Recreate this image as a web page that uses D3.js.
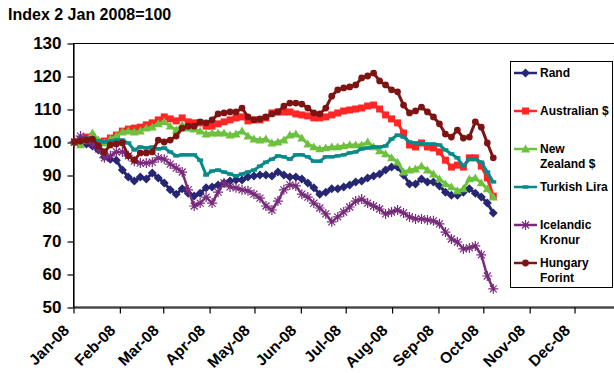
<!DOCTYPE html>
<html>
<head>
<meta charset="utf-8">
<script src="https://cdn.jsdelivr.net/npm/d3@7"></script>
<style>
  html, body { margin: 0; padding: 0; background: #ffffff; }
  svg { display: block; font-family: "Liberation Sans", Arial, sans-serif; font-weight: bold; }
</style>
</head>
<body>
<svg id="chart" width="614" height="373"></svg>
<script>
// Observation dates (2008)
const dates = [
  "2008-01-02","2008-01-06","2008-01-10","2008-01-14","2008-01-18","2008-01-22","2008-01-26","2008-01-30",
  "2008-02-03","2008-02-07","2008-02-11","2008-02-15","2008-02-19","2008-02-23","2008-02-27",
  "2008-03-02","2008-03-06","2008-03-10","2008-03-14","2008-03-18","2008-03-22","2008-03-26","2008-03-30",
  "2008-04-03","2008-04-07","2008-04-11","2008-04-15","2008-04-19","2008-04-23","2008-04-27",
  "2008-05-01","2008-05-05","2008-05-09","2008-05-13","2008-05-17","2008-05-21","2008-05-25","2008-05-29",
  "2008-06-02","2008-06-06","2008-06-10","2008-06-14","2008-06-18","2008-06-22","2008-06-26","2008-06-30",
  "2008-07-04","2008-07-08","2008-07-12","2008-07-16","2008-07-20","2008-07-24","2008-07-28",
  "2008-08-01","2008-08-05","2008-08-09","2008-08-13","2008-08-17","2008-08-21","2008-08-25","2008-08-29",
  "2008-09-02","2008-09-06","2008-09-10","2008-09-14","2008-09-18","2008-09-22","2008-09-26","2008-09-30",
  "2008-10-04","2008-10-08"
];

// Currency indices, 2 Jan 2008 = 100
const rand = [100.0,99.7,99.4,98.8,97.6,95.5,94.8,94.5,91.5,89.4,
  88.2,89.4,88.8,90.6,89.1,87.6,85.5,84.2,85.8,84.5,
  83.6,84.5,86.1,86.4,87.0,87.6,88.2,88.5,88.5,89.4,
  89.7,90.0,90.0,89.7,90.9,90.0,89.4,89.4,88.8,87.6,
  86.1,84.2,84.8,85.8,85.8,86.4,87.0,87.9,88.2,89.1,
  89.7,90.3,91.5,92.4,92.4,90.0,87.3,87.3,88.8,87.9,
  87.9,86.7,84.8,83.9,83.9,84.8,85.8,84.5,83.3,81.5,78.5];

const australianDollar = [100.0,100.6,101.5,101.5,100.0,100.3,101.2,102.1,103.3,103.9,
  104.2,104.5,105.2,105.8,106.7,107.6,107.0,106.4,107.3,106.1,
  105.8,105.8,104.8,104.8,105.5,106.1,106.7,107.3,107.6,106.4,
  106.7,106.7,107.3,108.8,109.1,109.1,109.1,108.5,108.2,107.9,
  107.3,107.3,107.6,108.2,108.8,109.4,109.7,110.0,110.3,110.9,
  111.2,110.0,108.2,107.0,105.8,102.7,99.1,98.5,99.7,98.5,
  98.2,97.0,94.5,92.4,93.0,92.4,95.2,95.2,92.7,89.1,83.6];

const newZealandDollar = [100.0,99.1,100.6,102.7,100.6,99.7,100.9,101.8,103.0,103.3,
  103.0,103.3,104.2,104.5,105.5,106.1,104.8,103.6,105.2,104.2,
  103.9,103.3,102.4,102.7,102.7,102.7,102.1,102.4,103.3,101.8,
  100.9,100.6,100.9,99.7,100.0,100.6,102.1,102.4,101.2,99.4,
  98.5,97.9,98.2,98.5,98.5,98.8,99.1,99.1,99.1,100.0,
  98.5,97.3,96.4,95.2,93.9,90.9,91.5,91.8,92.7,91.5,
  90.3,88.8,87.3,86.4,85.2,85.8,88.8,89.1,87.6,85.8,83.3];

const turkishLira = [100.0,100.6,101.2,100.9,100.3,100.0,100.3,100.6,100.6,99.7,
  97.6,98.5,98.2,98.5,97.9,98.2,97.0,95.8,96.1,96.1,
  96.1,94.5,90.0,91.2,91.5,90.9,90.3,89.7,90.3,90.9,
  91.5,92.7,93.9,94.8,95.8,95.5,94.8,96.1,96.1,95.5,
  94.2,94.2,95.5,95.5,95.8,96.1,96.7,97.0,97.9,98.2,
  98.5,98.5,98.8,100.9,102.1,101.5,100.0,99.7,99.7,99.4,
  99.4,99.1,97.6,96.4,95.2,92.7,94.8,94.8,93.9,90.9,87.9];

const icelandicKronur = [100.0,101.8,100.6,99.4,97.9,95.2,95.8,97.0,97.0,95.8,
  94.2,93.6,93.6,93.9,95.2,94.8,93.3,92.1,90.9,85.5,
  80.6,81.5,83.3,81.5,84.8,87.6,86.4,86.1,85.5,85.2,
  84.2,83.0,80.6,79.4,82.1,85.5,87.0,86.7,84.2,83.3,
  81.5,80.0,78.2,75.8,77.3,78.8,80.3,82.1,82.7,81.5,
  80.6,79.7,78.2,78.8,79.4,78.5,77.3,76.7,76.7,76.4,
  76.1,75.2,72.7,70.6,69.7,67.6,67.9,68.5,65.8,59.4,55.5];

const hungaryForint = [100.0,100.3,100.6,100.9,98.8,97.0,99.1,99.4,99.7,95.8,
  94.5,96.7,96.7,97.0,100.6,100.0,100.6,101.8,104.2,104.8,
  104.8,106.1,105.8,106.7,108.5,108.8,109.1,109.1,110.3,107.6,
  106.7,107.0,107.6,108.5,109.1,110.9,111.8,111.8,111.5,110.3,
  108.8,108.5,110.3,113.9,115.8,116.4,116.7,117.3,119.4,120.0,
  120.9,118.5,117.3,115.8,115.2,111.2,108.8,109.4,110.6,109.1,
  107.6,105.5,102.4,101.5,103.6,101.2,101.5,106.1,104.5,99.7,95.2];

// Axis ticks
const monthTicks = ["2008-01-01","2008-02-01","2008-03-01","2008-04-01","2008-05-01","2008-06-01",
  "2008-07-01","2008-08-01","2008-09-01","2008-10-01","2008-11-01","2008-12-01"];
const monthLabels = ["Jan-08","Feb-08","Mar-08","Apr-08","May-08","Jun-08",
  "Jul-08","Aug-08","Sep-08","Oct-08","Nov-08","Dec-08"];
const yTicks = [50, 60, 70, 80, 90, 100, 110, 120, 130];

const legendLabels = [["Rand"], ["Australian $"], ["New", "Zealand $"], ["Turkish Lira"], ["Icelandic", "Kronur"], ["Hungary", "Forint"]];
const seriesValues = [rand, australianDollar, newZealandDollar, turkishLira, icelandicKronur, hungaryForint];
const seriesColors = ["#262673", "#ff2626", "#6cc13f", "#078a8a", "#782a7c", "#7d1414"];
const seriesMarkers = ["diamond", "square", "triangle", "dash", "asterisk", "circle"];

const parseDate = d3.utcParse("%Y-%m-%d");
const svg = d3.select("#chart");

const x = d3.scaleUtc()
  .domain([parseDate("2008-01-01"), parseDate("2009-01-01")])
  .range([73, 620.4]);
const y = d3.scaleLinear().domain([50, 130]).range([307, 43]);

// Title
svg.append("text")
  .attr("x", 8).attr("y", 20)
  .attr("font-size", 16)
  .attr("fill", "#000")
  .text("Index 2 Jan 2008=100");

// Plot frame
svg.append("rect")
  .attr("x", 73.5).attr("y", 43.5)
  .attr("width", 560).attr("height", 263.5)
  .attr("fill", "none").attr("stroke", "#000").attr("stroke-width", 1);

// Y axis
const yAxis = svg.append("g")
  .attr("transform", "translate(73.5,0.5)")
  .call(d3.axisLeft(y).tickValues(yTicks).tickSize(6).tickSizeOuter(0).tickPadding(6));
yAxis.selectAll("text")
  .attr("font-size", 17).attr("font-family", "Liberation Sans, Arial, sans-serif")
  .attr("font-weight", "bold").attr("fill", "#000");
yAxis.selectAll("line, path").attr("stroke", "#000").attr("stroke-width", 1.2);

// X axis
const xAxis = svg.append("g")
  .attr("transform", "translate(0.5,307.5)")
  .call(d3.axisBottom(x)
    .tickValues(monthTicks.map(parseDate))
    .tickFormat((d, i) => monthLabels[i])
    .tickSize(6).tickSizeOuter(0));
xAxis.selectAll("line, path").attr("stroke", "#000").attr("stroke-width", 1.2);
xAxis.selectAll("text")
  .attr("font-size", 15.5).attr("font-family", "Liberation Sans, Arial, sans-serif")
  .attr("font-weight", "bold").attr("fill", "#000")
  .attr("x", 0).attr("y", 0).attr("dy", 0)
  .attr("text-anchor", "end")
  .attr("transform", "translate(-4,24) rotate(-45)");

// Marker shapes
function markerPath(kind) {
  switch (kind) {
    case "diamond": return "M0,-4.5L4.5,0L0,4.5L-4.5,0Z";
    case "square": return "M-3.5,-3.5H3.5V3.5H-3.5Z";
    case "triangle": return "M0,-4.5L4.5,3.4L-4.5,3.4Z";
    case "dash": return "M-3,-1.7H3V1.7H-3Z";
    case "asterisk": return "M-3.5,-3.5L3.5,3.5M-3.5,3.5L3.5,-3.5M0,-5V5M-5,0H5";
    case "circle": return d3.symbol(d3.symbolCircle, 36)();
  }
}
function styleMarker(sel, kind, color) {
  if (kind === "asterisk") {
    sel.attr("fill", "none").attr("stroke", color).attr("stroke-width", 1.2);
  } else {
    sel.attr("fill", color).attr("stroke", "none");
  }
}

const line = d3.line()
  .x(d => x(d.date))
  .y(d => y(d.value));

const plot = svg.append("g");
seriesValues.forEach((vals, s) => {
  const pts = vals.map((v, i) => ({ date: parseDate(dates[i]), value: v }));
  const g = plot.append("g");
  g.append("path")
    .datum(pts)
    .attr("d", line)
    .attr("fill", "none")
    .attr("stroke", seriesColors[s])
    .attr("stroke-width", seriesMarkers[s] === "asterisk" ? 2.5 : 3)
    .attr("stroke-linejoin", "round");
  g.selectAll("path.m")
    .data(pts)
    .join("path")
    .attr("class", "m")
    .attr("transform", d => `translate(${x(d.date)},${y(d.value)})`)
    .attr("d", markerPath(seriesMarkers[s]))
    .call(styleMarker, seriesMarkers[s], seriesColors[s]);
});

// Legend
const legend = svg.append("g");
legend.append("rect")
  .attr("x", 510.5).attr("y", 61.5)
  .attr("width", 102).attr("height", 226)
  .attr("fill", "#fff").attr("stroke", "#000").attr("stroke-width", 1);
legendLabels.forEach((lines, s) => {
  const cy = 73 + s * 38;
  legend.append("line")
    .attr("x1", 514).attr("x2", 537).attr("y1", cy).attr("y2", cy)
    .attr("stroke", seriesColors[s]).attr("stroke-width", 2.5);
  legend.append("path")
    .attr("transform", `translate(525.5,${cy})`)
    .attr("d", markerPath(seriesMarkers[s]))
    .call(styleMarker, seriesMarkers[s], seriesColors[s]);
  const t = legend.append("text")
    .attr("x", 540).attr("y", cy + 4.3)
    .attr("font-size", 12).attr("fill", "#000");
  lines.forEach((ln, j) => {
    t.append("tspan").attr("x", 540).attr("dy", j === 0 ? 0 : 15).text(ln);
  });
});
</script>
</body>
</html>
